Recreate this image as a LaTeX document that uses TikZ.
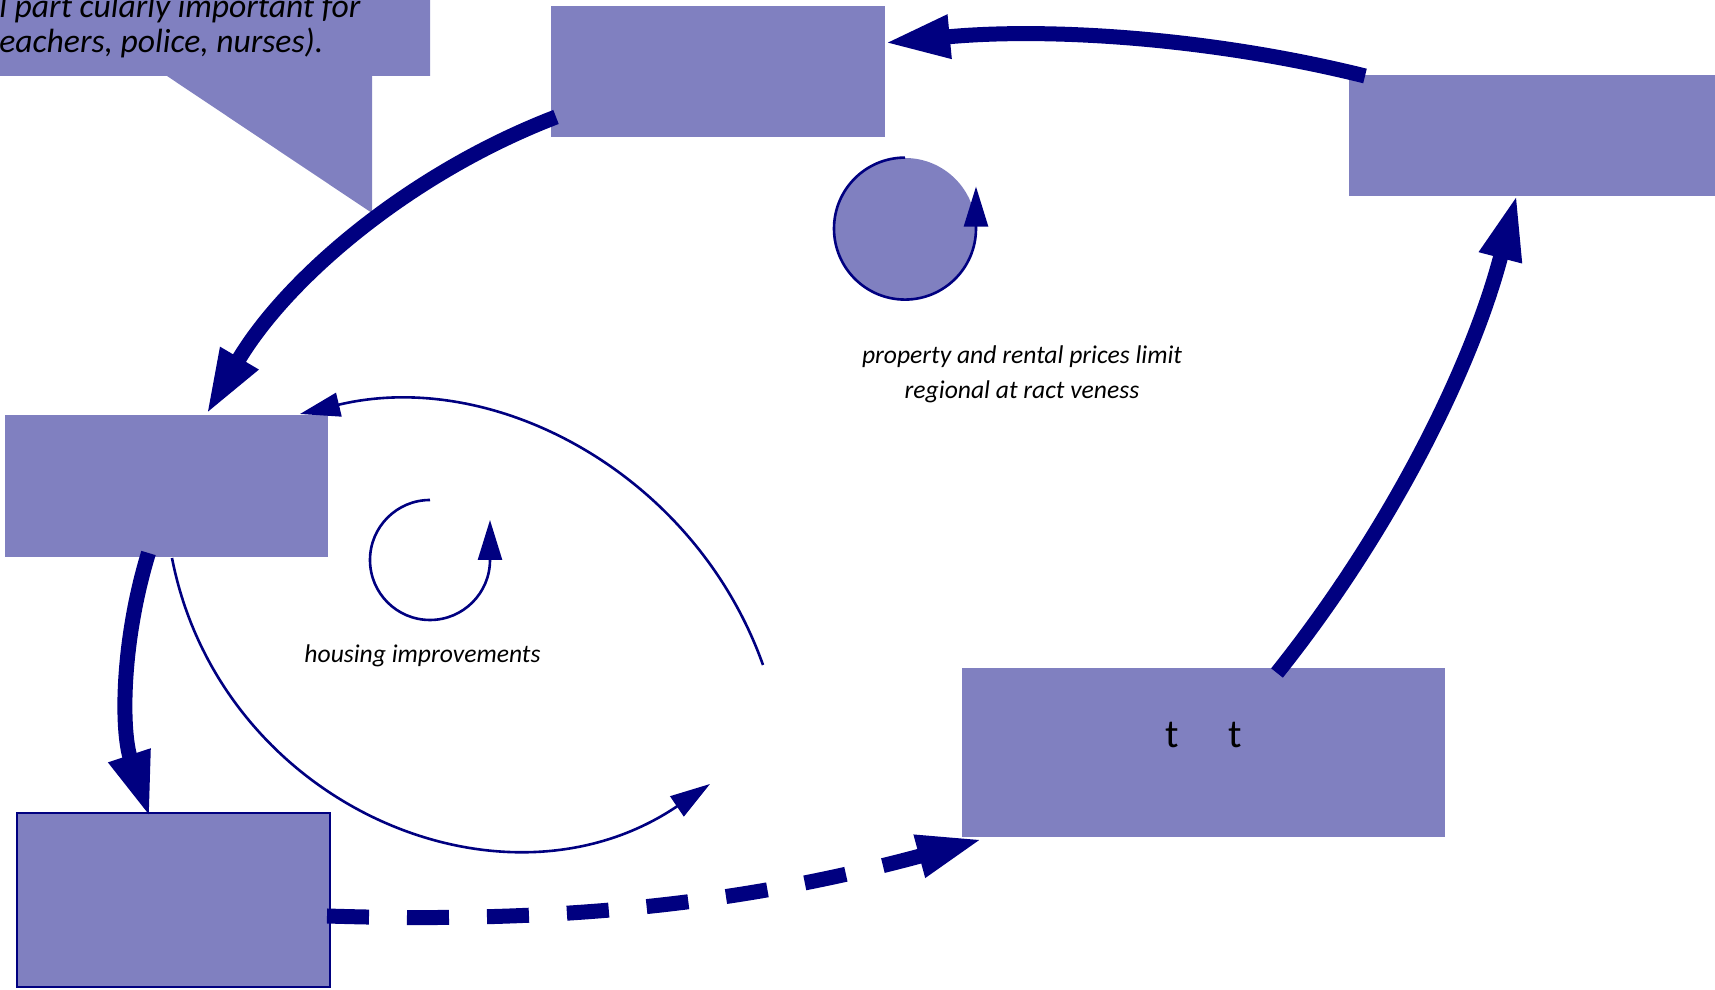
\documentclass[tikz,border=0pt]{standalone}
\usepackage{fontspec}
\setmainfont{Carlito}
\usetikzlibrary{arrows.meta}
\definecolor{boxfill}{RGB}{128,128,192}
\definecolor{loopnavy}{RGB}{0,0,128}

\begin{document}
\begin{tikzpicture}[x=0.5pt,y=0.5pt,
  box/.style={rectangle,fill=boxfill,inner sep=0pt,outer sep=0pt},
  link/.style={loopnavy,line width=7.5pt,-{Triangle[length=33pt,width=20pt]}},
  thinlink/.style={loopnavy,line width=1.3pt,-{Triangle[length=20pt,width=12pt]}},
  note/.style={font=\fontsize{12.8}{17.5}\selectfont\itshape,align=center,inner sep=0pt}]
  \useasboundingbox (0,0) rectangle (1715,990);

  % callout
  \fill[boxfill] (-10,1000) -- (430,1000) -- (430,914) -- (372,914) -- (372,777) -- (167,914) -- (-10,914) -- cycle;
  \node[anchor=west,inner sep=0pt,align=left,font=\fontsize{16.8}{17.5}\selectfont\itshape] (calltext) at (-1,963.5) {l part cularly important for\\eachers, police, nurses).};

  \node[box,minimum width=167pt,minimum height=65.5pt] (cost) at (718,918.5) {};
  \node[box,minimum width=185.5pt,minimum height=60.5pt] (growth) at (1534.5,854.5) {};
  \node[box,minimum width=161.5pt,minimum height=71pt] (workers) at (166.5,504) {};
  \node[box,draw=loopnavy,line width=1pt,minimum width=156.5pt,minimum height=87pt] (stock) at (173.5,90) {};
  \node[box,minimum width=241.5pt,minimum height=84.5pt] (jobs) at (1203.5,237.5) {};
  \node[font=\fontsize{20}{24}\selectfont] (jobtext) at ([yshift=8.5pt]jobs.center) {t\hspace{25pt}t};

  % loops
  \node[circle,fill=boxfill,minimum size=71pt,inner sep=0pt] (rloop) at (905,761) {};
  \draw[thinlink] (rloop.north) arc[start angle=90,end angle=360,radius=35.5pt] -- ++(0,42);
  \coordinate (hloop) at (430,430);
  \draw[thinlink] ([yshift=30pt]hloop) arc[start angle=90,end angle=360,radius=30pt] -- ++(0,40);

  \node[note] (pricenote) at (1022,615.5) {property and rental prices limit\\regional at ract veness};
  \node[note] (housenote) at (422.5,334) {housing improvements};

  \draw[link] ([xshift=8pt,yshift=-0.5pt]growth.north west) .. controls +(-157,39) and +(161,15.5) .. ([xshift=-0.5pt,yshift=14.25pt]cost.east);
  \draw[link] ([xshift=2.5pt,yshift=10pt]cost.south west) .. controls +(-147,-56.5) and +(80,136) .. ([xshift=19.75pt]workers.north);
  \draw[link] ([xshift=-9pt,yshift=2pt]workers.south) .. controls +(-27,-88) and +(-29,88) .. ([xshift=-11.75pt,yshift=-2.5pt]stock.north);
  \draw[link] ([xshift=36.75pt,yshift=-2.5pt]jobs.north) .. controls +(112.6,141) and +(-45.5,-174.7) .. ([xshift=-8.75pt,yshift=1pt]growth.south);
  \draw[link,dash pattern=on 21pt off 19pt] ([xshift=-1.5pt,yshift=-8pt]stock.east) .. controls +(220,-7) and +(-251,-68) .. ([xshift=10.5pt,yshift=-1pt]jobs.south west);

  \coordinate (aend) at (710,206);
  \coordinate (bstart) at (763,325);
  \draw[thinlink] ([xshift=2.75pt,yshift=-0.5pt]workers.south) .. controls +(48,-246.5) and +(-208,-141) .. (aend);
  \draw[thinlink] (bstart) .. controls +(-67.5,189.7) and +(196,47) .. ([xshift=-14pt,yshift=0.5pt]workers.north east);
\end{tikzpicture}
\end{document}
